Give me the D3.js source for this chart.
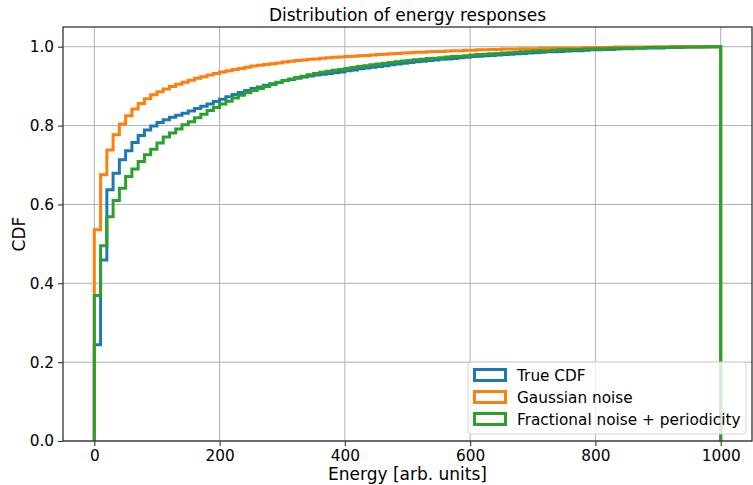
<!DOCTYPE html>
<html>
<head>
<meta charset="utf-8">
<script src="https://cdn.jsdelivr.net/npm/d3@7"></script>
<style>
  body { margin: 0; background: #fff; }
  text { font-family: "DejaVu Sans", sans-serif; fill: #000; }
</style>
</head>
<body>
<svg id="chart" width="753" height="485"></svg>
<script>
// bin edges: 0, 10, ..., 1000 (100 bins)
const binEdges = d3.range(0, 1001, 10)

// cumulative fractions per bin
const trueCdf = [
  0.244, 0.459, 0.637, 0.679, 0.713, 0.736, 0.757, 0.775, 0.789, 0.799,
  0.808, 0.815, 0.821, 0.826, 0.831, 0.837, 0.843, 0.849, 0.855, 0.861,
  0.867, 0.873, 0.879, 0.884, 0.889, 0.894, 0.898, 0.902, 0.906, 0.910,
  0.914, 0.917, 0.920, 0.923, 0.926, 0.928, 0.930, 0.932, 0.934, 0.936,
  0.939, 0.941, 0.944, 0.946, 0.948, 0.950, 0.952, 0.954, 0.956, 0.958,
  0.960, 0.962, 0.963, 0.965, 0.966, 0.968, 0.969, 0.970, 0.972, 0.973,
  0.975, 0.976, 0.977, 0.978, 0.979, 0.980, 0.981, 0.982, 0.983, 0.984,
  0.985, 0.986, 0.987, 0.987, 0.988, 0.989, 0.990, 0.990, 0.991, 0.992,
  0.992, 0.993, 0.993, 0.994, 0.995, 0.995, 0.996, 0.996, 0.997, 0.997,
  0.997, 0.998, 0.998, 0.998, 0.999, 0.999, 0.999, 0.999, 1.000, 1.000
]
const gaussianNoise = [
  0.536, 0.675, 0.738, 0.777, 0.804, 0.825, 0.842, 0.856, 0.868, 0.878,
  0.886, 0.893, 0.899, 0.905, 0.910, 0.915, 0.920, 0.924, 0.928, 0.932,
  0.936, 0.939, 0.942, 0.945, 0.948, 0.951, 0.953, 0.955, 0.957, 0.959,
  0.961, 0.963, 0.965, 0.966, 0.968, 0.969, 0.971, 0.972, 0.973, 0.974,
  0.975, 0.976, 0.977, 0.978, 0.979, 0.980, 0.981, 0.982, 0.983, 0.984,
  0.985, 0.986, 0.986, 0.987, 0.988, 0.988, 0.989, 0.990, 0.990, 0.991,
  0.991, 0.992, 0.992, 0.993, 0.993, 0.994, 0.994, 0.994, 0.995, 0.995,
  0.995, 0.996, 0.996, 0.996, 0.997, 0.997, 0.997, 0.997, 0.998, 0.998,
  0.998, 0.998, 0.998, 0.999, 0.999, 0.999, 0.999, 0.999, 0.999, 1.000,
  1.000, 1.000, 1.000, 1.000, 1.000, 1.000, 1.000, 1.000, 1.000, 1.000
]
const fractionalNoise = [
  0.369, 0.495, 0.569, 0.610, 0.641, 0.671, 0.690, 0.709, 0.726, 0.740,
  0.756, 0.771, 0.781, 0.791, 0.802, 0.810, 0.820, 0.829, 0.838, 0.846,
  0.855, 0.862, 0.870, 0.877, 0.883, 0.889, 0.894, 0.899, 0.904, 0.909,
  0.914, 0.918, 0.922, 0.925, 0.929, 0.932, 0.935, 0.938, 0.940, 0.942,
  0.945, 0.947, 0.950, 0.952, 0.954, 0.956, 0.958, 0.960, 0.962, 0.964,
  0.965, 0.967, 0.968, 0.970, 0.971, 0.972, 0.974, 0.975, 0.976, 0.977,
  0.979, 0.980, 0.981, 0.982, 0.983, 0.984, 0.985, 0.986, 0.987, 0.988,
  0.989, 0.990, 0.990, 0.991, 0.992, 0.992, 0.993, 0.993, 0.994, 0.994,
  0.995, 0.995, 0.996, 0.996, 0.996, 0.997, 0.997, 0.997, 0.998, 0.998,
  0.998, 0.998, 0.999, 0.999, 0.999, 0.999, 0.999, 1.000, 1.000, 1.000
]

const seriesNames = ['True CDF', 'Gaussian noise', 'Fractional noise + periodicity']
const seriesValues = [trueCdf, gaussianNoise, fractionalNoise]
const seriesColors = ['#1f77b4', '#ff7f0e', '#2ca02c']

const xTicks = [0, 200, 400, 600, 800, 1000]
const yTicks = [0, 0.2, 0.4, 0.6, 0.8, 1.0]

const margin = { top: 27, right: 1, bottom: 44, left: 63 }
const width = 753, height = 485
const innerW = width - margin.left - margin.right
const innerH = height - margin.top - margin.bottom

const svg = d3.select('#chart')
const g = svg.append('g').attr('transform', `translate(${margin.left},${margin.top})`)

const x = d3.scaleLinear().domain([-50, 1050]).range([0, innerW])
const y = d3.scaleLinear().domain([0, 1.05]).range([innerH, 0])

// grid
g.append('g')
  .selectAll('line.vgrid')
  .data(xTicks)
  .join('line')
  .attr('x1', d => x(d)).attr('x2', d => x(d))
  .attr('y1', 0).attr('y2', innerH)
  .attr('stroke', '#b0b0b0').attr('stroke-width', 1)
g.append('g')
  .selectAll('line.hgrid')
  .data(yTicks)
  .join('line')
  .attr('x1', 0).attr('x2', innerW)
  .attr('y1', d => y(d)).attr('y2', d => y(d))
  .attr('stroke', '#b0b0b0').attr('stroke-width', 1)

svg.append('clipPath').attr('id', 'plot-clip')
  .append('rect').attr('width', innerW).attr('height', innerH)

// step outlines, like a cumulative histogram drawn with histtype='step'
const stepPoints = vals => {
  const pts = [[binEdges[0], 0]]
  vals.forEach((v, i) => {
    pts.push([binEdges[i], v])
    pts.push([binEdges[i + 1], v])
  })
  pts.push([binEdges[binEdges.length - 1], 0])
  return pts
}
const line = d3.line().x(d => x(d[0])).y(d => y(d[1]))

g.append('g').attr('clip-path', 'url(#plot-clip)')
  .selectAll('path')
  .data(seriesValues)
  .join('path')
  .attr('d', d => line(stepPoints(d)))
  .attr('fill', 'none')
  .attr('stroke', (d, i) => seriesColors[i])
  .attr('stroke-width', 3)
  .attr('stroke-linejoin', 'miter')

// axes
const xAxis = g.append('g')
  .attr('transform', `translate(0,${innerH})`)
  .call(d3.axisBottom(x).tickValues(xTicks).tickSize(5).tickPadding(4).tickFormat(d3.format('d')))
const yAxis = g.append('g')
  .call(d3.axisLeft(y).tickValues(yTicks).tickSize(5).tickPadding(4).tickFormat(d3.format('.1f')))
;[xAxis, yAxis].forEach(a => {
  a.select('.domain').remove()
  a.selectAll('line').attr('stroke', '#333').attr('stroke-width', 1.1)
  a.selectAll('text').style('font-size', '15.3px').attr('fill', '#000')
})

// spines
g.append('rect')
  .attr('width', innerW).attr('height', innerH)
  .attr('fill', 'none').attr('stroke', '#333').attr('stroke-width', 1.3)

// labels
svg.append('text')
  .attr('x', margin.left + innerW / 2).attr('y', 21)
  .attr('text-anchor', 'middle').style('font-size', '17px')
  .text('Distribution of energy responses')
svg.append('text')
  .attr('x', margin.left + innerW / 2).attr('y', 480)
  .attr('text-anchor', 'middle').style('font-size', '17px')
  .text('Energy [arb. units]')
svg.append('text')
  .attr('transform', `translate(25,${margin.top + innerH / 2}) rotate(-90)`)
  .attr('text-anchor', 'middle').style('font-size', '17px')
  .text('CDF')

// legend
const legend = svg.append('g').attr('transform', 'translate(468,362)')
legend.append('rect')
  .attr('width', 278).attr('height', 72).attr('rx', 3)
  .attr('fill', '#fff').attr('fill-opacity', 0.8)
  .attr('stroke', '#d5d5d5').attr('stroke-width', 1)
seriesNames.forEach((name, i) => {
  const row = legend.append('g').attr('transform', `translate(0,${13 + i * 22})`)
  row.append('rect')
    .attr('x', 6.5).attr('y', -5.5).attr('width', 31).attr('height', 11)
    .attr('fill', 'none').attr('stroke', seriesColors[i]).attr('stroke-width', 3)
  row.append('text')
    .attr('x', 49).attr('y', 5.5)
    .style('font-size', '15.3px')
    .text(name)
})
</script>
</body>
</html>
